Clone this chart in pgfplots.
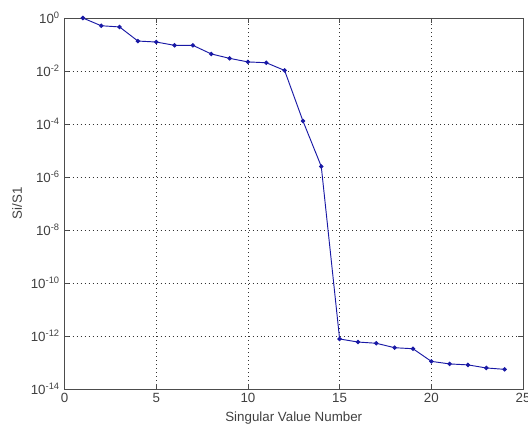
\documentclass[border=0pt]{standalone}
\usepackage{pgfplots}
\pgfplotsset{compat=1.18}
\usepackage{fontspec}
\setmainfont{Liberation Sans}
\begin{document}
\begin{tikzpicture}[x=0.75pt,y=0.75pt]
\begin{axis}[
    name=ax,
    at={(0,0)},
    anchor=south west,
    scale only axis,
    width=343.9pt,
    height=278.25pt,
    xmin=0, xmax=25,
    ymode=log,
    ymin=1e-14, ymax=1,
    xtick={0,5,10,15,20,25},
    ytick={1e-14,1e-12,1e-10,1e-8,1e-6,1e-4,1e-2,1},
    yticklabels={10\textsuperscript{-14},10\textsuperscript{-12},10\textsuperscript{-10},10\textsuperscript{-8},10\textsuperscript{-6},10\textsuperscript{-4},10\textsuperscript{-2},10\textsuperscript{0}},
    minor ytick={},
    /pgf/number format/assume math mode=true,
    tick align=inside,
    major tick length=3.5pt,
    tick style={black!70,thin},
    axis line style={black!70,thin},
    grid=major,
    major grid style={black!80,line width=0.45pt,dash pattern=on 0.6pt off 2.4pt},
    xlabel={Singular Value Number},
    ylabel={Si/S1},
    ticklabel style={font=\fontsize{10}{12}\selectfont,text=black!75},
    label style={font=\fontsize{10}{12}\selectfont,text=black!75},
    xlabel style={at={(axis description cs:0.5,0)},anchor=center,yshift=-21.5pt},
    ylabel style={at={(axis description cs:0,0.5)},anchor=center,yshift=35.5pt},
]
\addplot[color={rgb,255:red,25;green,25;blue,165},line width=0.7pt,mark=*,mark size=1.3pt,mark options={fill={rgb,255:red,25;green,25;blue,165}}] coordinates {
    (1, 1.0)
    (2, 0.51)
    (3, 0.46)
    (4, 0.135)
    (5, 0.124)
    (6, 0.093)
    (7, 0.093)
    (8, 0.044)
    (9, 0.030)
    (10, 0.022)
    (11, 0.0205)
    (12, 0.0105)
    (13, 1.3e-4)
    (14, 2.5e-6)
    (15, 7.7e-13)
    (16, 5.9e-13)
    (17, 5.3e-13)
    (18, 3.6e-13)
    (19, 3.3e-13)
    (20, 1.1e-13)
    (21, 8.8e-14)
    (22, 8.1e-14)
    (23, 6.2e-14)
    (24, 5.5e-14)
};
\end{axis}
\pgfresetboundingbox
\path (ax.south west) ++(-48.4pt,-32.25pt) coordinate (bl);
\path (ax.north east) ++(3.75pt,13.5pt) coordinate (tr);
\path[use as bounding box] (bl) rectangle (tr);
\end{tikzpicture}
\end{document}
